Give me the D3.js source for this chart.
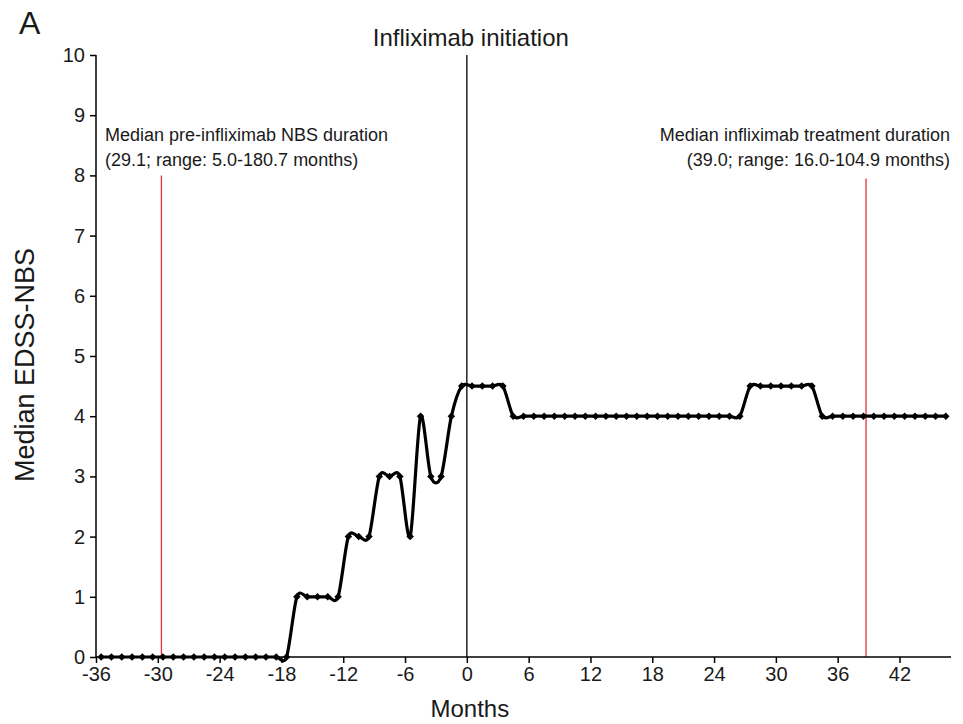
<!DOCTYPE html>
<html>
<head>
<meta charset="utf-8">
<script src="https://cdn.jsdelivr.net/npm/d3@7/dist/d3.min.js"></script>
<style>
	body { margin: 0; background: #fff; }
	svg text { font-family: 'Liberation Sans', Arial, sans-serif; fill: #1a1a1a; }
	.axis line { stroke: #000; stroke-width: 1.5; }
	.axis text { font-size: 20px; }
</style>
</head>
<body>
<svg class="edss" width="963" height="724"></svg>
<script>
// months relative to infliximab initiation (midpoint of each month)
var months = [-35.5, -34.5, -33.5, -32.5, -31.5, -30.5, -29.5, -28.5, -27.5, -26.5,
	-25.5, -24.5, -23.5, -22.5, -21.5, -20.5, -19.5, -18.5, -17.5, -16.5,
	-15.5, -14.5, -13.5, -12.5, -11.5, -10.5, -9.5, -8.5, -7.5, -6.5,
	-5.5, -4.5, -3.5, -2.5, -1.5, -0.5, 0.5, 1.5, 2.5, 3.5,
	4.5, 5.5, 6.5, 7.5, 8.5, 9.5, 10.5, 11.5, 12.5, 13.5,
	14.5, 15.5, 16.5, 17.5, 18.5, 19.5, 20.5, 21.5, 22.5, 23.5,
	24.5, 25.5, 26.5, 27.5, 28.5, 29.5, 30.5, 31.5, 32.5, 33.5,
	34.5, 35.5, 36.5, 37.5, 38.5, 39.5, 40.5, 41.5, 42.5, 43.5,
	44.5, 45.5, 46.5];
var medianEdss = [0, 0, 0, 0, 0, 0, 0, 0, 0, 0,
	0, 0, 0, 0, 0, 0, 0, 0, 0, 1,
	1, 1, 1, 1, 2, 2, 2, 3, 3, 3,
	2, 4, 3, 3, 4, 4.5, 4.5, 4.5, 4.5, 4.5,
	4, 4, 4, 4, 4, 4, 4, 4, 4, 4,
	4, 4, 4, 4, 4, 4, 4, 4, 4, 4,
	4, 4, 4, 4.5, 4.5, 4.5, 4.5, 4.5, 4.5, 4.5,
	4, 4, 4, 4, 4, 4, 4, 4, 4, 4,
	4, 4, 4];
var xTicks = [-36, -30, -24, -18, -12, -6, 0, 6, 12, 18, 24, 30, 36, 42];
var yTicks = [0, 1, 2, 3, 4, 5, 6, 7, 8, 9, 10];
var markerLines = [
	{month: -29.65, top: 8, color: '#e3343a'},
	{month: 0, top: 10, color: '#000'},
	{month: 38.75, top: 7.95, color: '#e3343a'}
];
var notePre = ['Median pre-infliximab NBS duration', '(29.1; range: 5.0-180.7 months)'];
var notePost = ['Median infliximab treatment duration', '(39.0; range: 16.0-104.9 months)'];

var chart = {
	initialize: function(){
		var self = this;
		self._render_view();
	},
	_render_view: function(){
		var self = this;
		var svg = d3.select('svg.edss');
		var margin = {top: 55, bottom: 67, left: 96, right: 12};
		var width = 963 - margin.left - margin.right;
		var height = 724 - margin.top - margin.bottom;
		var x = d3.scaleLinear().domain([-36, 47]).range([0, width]);
		var y = d3.scaleLinear().domain([0, 10]).range([height, 0]);
		var g = svg.append('g')
			.attr('transform', 'translate(' + margin.left + ',' + margin.top + ')');

		// vertical reference lines
		g.selectAll('.ref-line')
			.data(markerLines)
			.enter()
			.append('line')
			.attr('class', 'ref-line')
			.attr('x1', function(d){ return x(d.month); })
			.attr('x2', function(d){ return x(d.month); })
			.attr('y1', function(d){ return y(d.top); })
			.attr('y2', y(0))
			.attr('stroke', function(d){ return d.color; })
			.attr('stroke-width', 1.3);

		// plain hyphen for negatives, like the original
		var fmt = function(d){ return String(d); };
		g.append('g')
			.attr('class', 'axis')
			.attr('transform', 'translate(0,' + height + ')')
			.call(d3.axisBottom(x).tickValues(xTicks).tickFormat(fmt).tickSize(6).tickPadding(4).tickSizeOuter(0));
		g.append('g')
			.attr('class', 'axis')
			.call(d3.axisLeft(y).tickValues(yTicks).tickFormat(fmt).tickSize(6).tickPadding(5).tickSizeOuter(0));
		g.selectAll('.axis .domain').remove();
		// axis lines drawn separately so they run to the ends
		g.append('line').attr('x1', 0).attr('x2', width).attr('y1', height).attr('y2', height)
			.attr('stroke', '#000').attr('stroke-width', 1.5);
		g.append('line').attr('x1', 0).attr('x2', 0).attr('y1', 0).attr('y2', height)
			.attr('stroke', '#000').attr('stroke-width', 1.5);

		var points = months.map(function(m, i){ return [m, medianEdss[i]]; });
		//excel style smoothing: slight overshoot at the steps
		var line = d3.line()
			.x(function(d){ return x(d[0]); })
			.y(function(d){ return y(d[1]); })
			.curve(d3.curveCardinal.tension(0.15));
		g.append('path')
			.datum(points)
			.attr('d', line)
			.attr('fill', 'none')
			.attr('stroke', '#000')
			.attr('stroke-width', 3.2)
			.attr('stroke-linejoin', 'round');
		g.selectAll('.edss-point')
			.data(points)
			.enter()
			.append('path')
			.attr('class', 'edss-point')
			.attr('d', d3.symbol().type(d3.symbolSquare).size(28))
			.attr('transform', function(d){ return 'translate(' + x(d[0]) + ',' + y(d[1]) + ') rotate(45)'; })
			.attr('fill', '#000');

		// texts
		svg.append('text').attr('x', 19).attr('y', 34).style('font-size', '32px').text('A');
		svg.append('text').attr('x', margin.left + x(0) + 4).attr('y', 46)
			.attr('text-anchor', 'middle').style('font-size', '24px').text('Infliximab initiation');
		svg.append('text')
			.attr('transform', 'translate(34,' + 365 + ') rotate(-90)')
			.attr('text-anchor', 'middle').style('font-size', '27px').text('Median EDSS-NBS');
		svg.append('text').attr('x', margin.left + x(0) + 3).attr('y', 717)
			.attr('text-anchor', 'middle').style('font-size', '24px').text('Months');

		svg.selectAll('.note-pre')
			.data(notePre)
			.enter()
			.append('text')
			.attr('class', 'note-pre')
			.attr('x', 105)
			.attr('y', function(d, i){ return 141 + i * 25; })
			.style('font-size', '18px')
			.text(function(d){ return d; });
		svg.selectAll('.note-post')
			.data(notePost)
			.enter()
			.append('text')
			.attr('class', 'note-post')
			.attr('x', 950)
			.attr('y', function(d, i){ return 141 + i * 25; })
			.attr('text-anchor', 'end')
			.style('font-size', '18px')
			.text(function(d){ return d; });
	}
};
chart.initialize();
</script>
</body>
</html>
